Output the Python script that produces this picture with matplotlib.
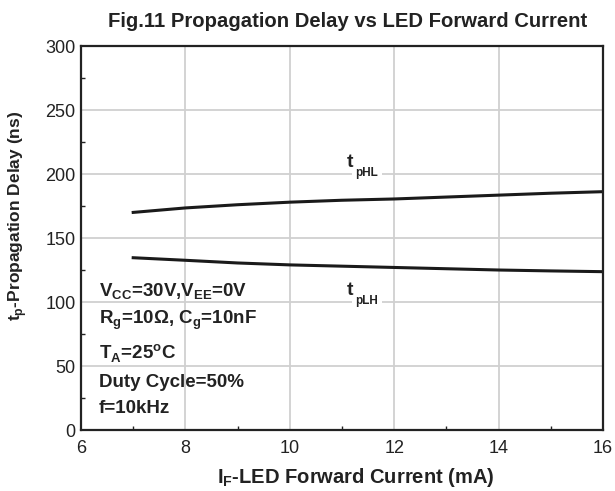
import numpy as np
import matplotlib.pyplot as plt

plt.rcParams['font.family'] = ['Liberation Sans', 'DejaVu Sans']
plt.rcParams['mathtext.fontset'] = 'custom'
plt.rcParams['mathtext.rm'] = 'Liberation Sans'
plt.rcParams['mathtext.bf'] = 'Liberation Sans:bold'

# LED forward current (mA)
current = [7, 8, 9, 10, 11, 12, 13, 14, 15, 16]
# propagation delays (ns)
t_phl = [170, 173.5, 176, 178, 179.5, 180.5, 182, 183.5, 185, 186.2]
t_plh = [134.6, 132.6, 130.5, 129, 128, 127, 126, 125, 124.3, 123.7]

x_ticks = [6, 8, 10, 12, 14, 16]
y_ticks = [0, 50, 100, 150, 200, 250, 300]

dark = '#222222'
fig = plt.figure(figsize=(6.15, 4.91), dpi=100)
ax = fig.add_axes([0.1317, 0.1242, 0.8488, 0.7821])

ax.plot(current, t_phl, color='#1a1a1a', lw=2.2)
ax.plot(current, t_plh, color='#1a1a1a', lw=2.2)

ax.set_xlim(6, 16)
ax.set_ylim(0, 300)
ax.set_xticks(x_ticks)
ax.set_yticks(y_ticks)
ax.set_xticks(np.arange(7, 16, 2), minor=True)
ax.set_yticks(np.arange(25, 300, 50), minor=True)
ax.grid(True, which='major', color='#d0d0d0', lw=1.3)
ax.tick_params(which='major', length=0, labelsize=13, colors=dark)
ax.tick_params(axis='x', which='major', pad=7)
ax.tick_params(axis='y', which='major', pad=4)
ax.tick_params(which='minor', direction='in', length=3, width=1, color=dark)
for s in ax.spines.values():
    s.set_linewidth(1.6)
    s.set_color(dark)

fig.text(0.566, 0.9456, 'Fig.11 Propagation Delay vs LED Forward Current',
         fontsize=14.6, fontweight='bold', color=dark, ha='center', va='baseline')
fig.text(0.578, 0.0163, r'I$_\mathbf{F}$-LED Forward Current (mA)', fontsize=14.5,
         fontweight='bold', color=dark, ha='center', va='baseline')
fig.text(0.029, 0.56, r't$_\mathbf{p}$-Propagation Delay (ns)', fontsize=12.5,
         fontweight='bold', color=dark, ha='center', va='center', rotation=90)

# curve labels: big "t" with a low, small subscript
for name, yb in [('pHL', 205.7), ('pLH', 105.5)]:
    ax.text(11.1, yb, 't', fontsize=14, fontweight='bold', color=dark,
            va='baseline', zorder=4)
    ax.annotate(name, xy=(11.1, yb), xytext=(6, -6.5), textcoords='offset points',
                fontsize=8.5, fontweight='bold', color=dark, va='baseline', zorder=3,
                bbox=dict(facecolor='white', edgecolor='none', pad=2.5))

notes = [r'V$_\mathbf{CC}$=30V,V$_\mathbf{EE}$=0V',
         r'R$_\mathbf{g}$=10$\mathbf{\Omega}$, C$_\mathbf{g}$=10nF',
         r'T$_\mathbf{A}$=25$^\mathbf{o}$C',
         'Duty Cycle=50%',
         'f=10kHz']
note_y = [103.9, 82.8, 55.5, 33.6, 13.3]
for s, yb in zip(notes, note_y):
    ax.text(6.345, yb, s, fontsize=13.5, fontweight='bold',
            color=dark, va='baseline')

fig.savefig('out.png', dpi=100)
